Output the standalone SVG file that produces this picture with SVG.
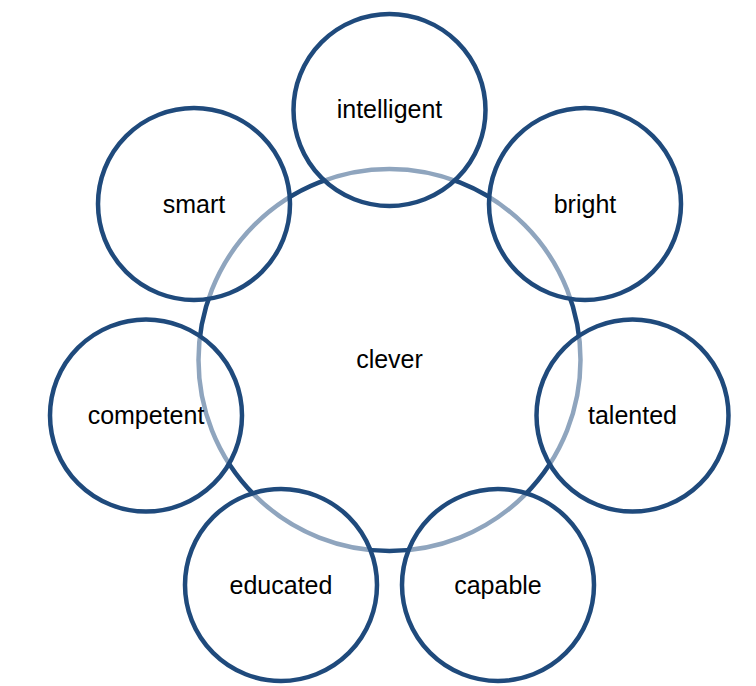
<svg xmlns="http://www.w3.org/2000/svg" width="756" height="686" viewBox="0 0 756 686">
  <style>
    .hub { fill: #ffffff; stroke: #1f4a7c; stroke-width: 4.5; }
    .petal { fill: #ffffff; fill-opacity: 0.5; stroke: #1f4a7c; stroke-width: 4.5; }
    .label { font-family: "Liberation Sans", Arial, sans-serif; font-size: 25px; fill: #000000; text-anchor: middle; }
  </style>
  <rect width="756" height="686" fill="#ffffff"/>

  <!-- central concept -->
  <g id="clever">
    <circle class="hub" cx="389.5" cy="360" r="191"/>
  </g>

  <!-- surrounding synonyms, placed on a ring of radius 250 -->
  <g id="intelligent">
    <circle class="petal" cx="389.5" cy="110" r="96"/>
    <text class="label" x="389.5" y="118">intelligent</text>
  </g>
  <g id="bright">
    <circle class="petal" cx="585" cy="204" r="96"/>
    <text class="label" x="585" y="213">bright</text>
  </g>
  <g id="talented">
    <circle class="petal" cx="632.5" cy="415.5" r="96"/>
    <text class="label" x="632.5" y="424">talented</text>
  </g>
  <g id="capable">
    <circle class="petal" cx="498" cy="585" r="96"/>
    <text class="label" x="498" y="594">capable</text>
  </g>
  <g id="educated">
    <circle class="petal" cx="281" cy="585" r="96"/>
    <text class="label" x="281" y="594">educated</text>
  </g>
  <g id="competent">
    <circle class="petal" cx="146" cy="415.5" r="96"/>
    <text class="label" x="146" y="424">competent</text>
  </g>
  <g id="smart">
    <circle class="petal" cx="194" cy="204" r="96"/>
    <text class="label" x="194" y="213">smart</text>
  </g>

  <g id="clever-label">
    <text class="label" x="389.5" y="368">clever</text>
  </g>

  <g id="connectors"/>
</svg>
